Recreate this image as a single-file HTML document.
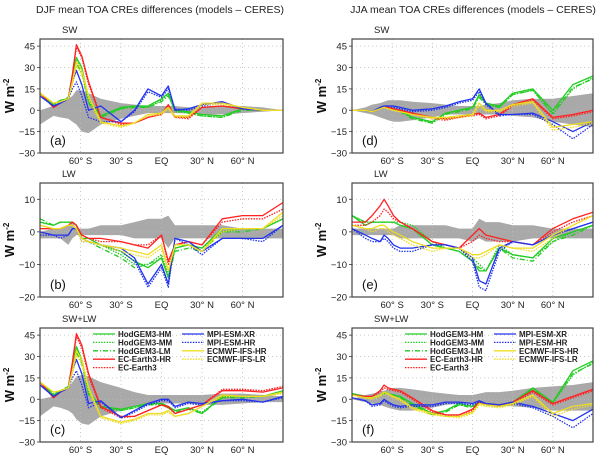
<!DOCTYPE html>
<html><head><meta charset="utf-8">
<style>
html,body{margin:0;padding:0;background:#fff;}
svg{display:block;font-family:"Liberation Sans",sans-serif;}
</style></head>
<body>
<svg id="chart" width="600" height="458" viewBox="0 0 600 458" xmlns="http://www.w3.org/2000/svg">
<text x="160" y="13" font-size="10.5" text-anchor="middle" fill="#222">DJF mean TOA CREs differences (models – CERES)</text>
<text x="473" y="13" font-size="10.5" text-anchor="middle" fill="#222">JJA mean TOA CREs differences (models – CERES)</text>
<g id="panels"></g>
</svg>
<script>
const lats = [-90,-80,-75,-69,-66,-63,-59,-54,-45,-30,-20,-10,0,5,10,20,30,45,60,75,90];
const xTickLats = [-60,-30,0,30,60];
const xTickLabels = ["60° S","30° S","EQ","30° N","60° N"];
const swTicks = [45,30,15,0,-15,-30];
const lwTicks = [10,0,-10,-20];
const seriesNames = ["HodGEM3-HM","HodGEM3-MM","HodGEM3-LM","EC-Earth3-HR","EC-Earth3","MPI-ESM-XR","MPI-ESM-HR","ECMWF-IFS-HR","ECMWF-IFS-LR"];

// Panel a: DJF SW
const aBandHi = [0,3,5,8,10,14,14,12,8,5,4,3,3,3,3,2,2,3,3,2,0];
const aBandLo = [-10,-4,-5,-6,-8,-10,-15,-16,-10,-6,-4,-2,-2,-2,-2,-2,-3,-3,-2,-1,0];
const aGHM = [12,4,7,8,25,37,30,8,-4,2,3,3,8,12,0,-1,-3,-4,1,0,0];
const aGMM = [12,4,6,8,23,35,28,6,-4,1,3,2,7,11,-1,-2,-4,-5,1,0,0];
const aGLM = [12,5,6,9,24,33,26,5,-5,1,2,2,6,10,0,-2,-4,-5,0,0,0];
const aRHR = [12,2,5,8,25,46,38,20,-5,-9,-9,-5,-3,4,-5,-5,2,3,1,0,0];
const aRE3 = [12,2,5,8,24,44,37,18,-5,-10,-9,-5,-2,3,-5,-6,2,3,1,0,0];
const aBXR = [10,3,5,8,20,28,18,0,3,-8,0,15,10,17,0,1,4,6,1,0,0];
const aBHR = [10,3,5,8,15,20,10,-5,-8,-8,-1,13,9,15,1,0,3,5,1,0,0];
const aYHR = [12,5,6,8,20,34,28,10,-8,-11,-9,-3,-2,2,-4,-4,5,5,2,0,0];
const aYLR = [12,5,6,8,18,31,25,8,-9,-12,-9,-4,-3,1,-5,-5,4,4,2,0,0];

// Panel b: DJF LW
const bBandHi = [0,1,1,2,3,1,1,1,2,2,3,4,4,5,2,2,2,2,1,1,1];
const bBandLo = [-2,-2,-2,-4,-2,-1,-1,-1,-1,-1,-2,-2,-2,-5,-2,-2,-2,-2,-2,-2,-2];
const bGHM = [3,2,3,3,3,2,-2,-2,-4,-6,-9,-11,-8,-14,-5,-4,-5,1,1,1,4];
const bGMM = [3,2,3,3,3,2,-2,-3,-4,-7,-10,-10,-7,-13,-5,-4,-5,0,1,1,4];
const bGLM = [4,2,3,3,3,2,-2,-3,-5,-8,-11,-10,-8,-14,-6,-5,-6,0,0,1,4];
const bRHR = [1,1,1,2,3,2,-1,-2,-2,-3,-4,-5,-1,-9,-4,-3,-4,4,5,5,9];
const bRE3 = [1,1,1,2,3,2,-1,-2,-3,-3,-4,-4,-1,-10,-4,-3,-4,3,4,4,7];
const bBXR = [0,-1,-1,-1,1,1,-2,-3,-4,-5,-8,-16,-10,-16,-2,-3,-6,-2,-2,-2,2];
const bBHR = [-1,-1,-2,-1,1,1,-3,-3,-4,-6,-9,-17,-11,-17,-2,-4,-7,-2,-2,-3,2];
const bYHR = [2,1,1,2,2,1,-2,-3,-4,-5,-6,-7,-4,-12,-4,-4,-6,1,1,1,6];
const bYLR = [2,1,1,2,2,1,-3,-3,-4,-6,-7,-8,-5,-12,-4,-4,-6,0,1,1,5];

// Panel c: DJF SW+LW
const cBandHi = [0,2,5,8,12,16,17,16,12,8,5,3,3,3,3,3,3,4,4,3,2];
const cBandLo = [-12,-5,-6,-8,-10,-14,-17,-18,-12,-8,-5,-3,-3,-3,-3,-3,-4,-4,-3,-2,-2];
const cGHM = [12,3,6,8,25,37,28,5,-5,-7,-5,-3,-3,-5,-8,-6,-10,2,2,2,6];
const cGMM = [12,3,6,8,24,35,27,4,-5,-8,-6,-3,-4,-6,-8,-6,-9,1,2,2,5];
const cGLM = [12,4,6,9,23,33,25,3,-6,-8,-6,-4,-4,-6,-9,-7,-10,1,1,2,5];
const cRHR = [12,1,5,8,26,46,38,18,-5,-12,-12,-8,-4,-5,-10,-7,-4,6,6,5,8];
const cRE3 = [12,1,5,8,25,44,36,16,-6,-13,-12,-8,-4,-6,-10,-7,-4,7,7,6,9];
const cBXR = [10,2,5,8,20,28,18,-3,-1,-13,-8,-3,0,0,-5,-2,-3,-1,0,-2,2];
const cBHR = [10,2,5,8,15,20,10,-6,-2,-13,-9,-4,-1,-1,-6,-3,-4,-1,-1,-2,1];
const cYHR = [12,5,6,8,20,34,28,8,-12,-16,-14,-10,-10,-8,-12,-10,-5,3,2,2,5];
const cYLR = [12,5,6,8,18,31,25,6,-13,-17,-15,-11,-11,-9,-12,-10,-5,2,2,2,4];

// Panel d: JJA SW
const dBandHi = [0,2,4,5,6,7,7,7,6,5,4,3,3,3,4,5,7,8,8,10,12];
const dBandLo = [0,-2,-3,-5,-6,-7,-8,-8,-7,-5,-3,-3,-3,-3,-3,-3,-4,-5,-8,-10,-12];
const dGHM = [0,0,-1,1,2,2,1,0,-5,-8,-2,0,2,11,5,3,12,15,0,18,24];
const dGMM = [0,0,-1,1,2,2,1,0,-5,-9,-2,0,2,10,4,2,11,14,-3,15,23];
const dGLM = [0,0,-1,1,2,2,1,-1,-6,-9,-3,-1,1,9,4,2,11,14,-2,16,22];
const dRHR = [0,0,-1,1,2,2,1,0,-2,-5,-6,-5,-3,-2,-5,-3,4,8,-5,-3,0];
const dRE3 = [0,0,-1,1,2,2,1,0,-2,-6,-7,-5,-4,-3,-6,-4,3,7,-6,-4,-1];
const dBXR = [0,0,-1,2,3,3,3,2,0,1,3,6,8,15,5,-3,-3,-2,-8,-15,-8];
const dBHR = [0,0,-1,2,3,3,2,1,-1,0,2,5,7,13,4,-4,-3,-3,-10,-20,-10];
const dYHR = [0,0,-1,1,2,1,0,-1,-3,-5,-5,-4,-3,5,0,0,4,6,-12,-10,-8];
const dYLR = [0,0,-1,1,2,1,0,-1,-3,-6,-6,-5,-4,3,-1,-1,3,5,-14,-12,-9];

// Panel e: JJA LW
const eBandHi = [1,1,1,1,1,1,1,2,2,2,2,1,1,4,3,3,2,2,1,1,1];
const eBandLo = [-1,-1,-1,-1,-1,-1,-1,-2,-2,-2,-2,-2,-3,-2,-3,-3,-3,-2,-2,-2,-2];
const eGHM = [5,2,3,3,3,3,3,2,1,-4,-5,-6,-9,-12,-12,-5,-7,-8,-2,0,2];
const eGMM = [5,3,3,3,3,3,3,3,2,-3,-5,-5,-8,-10,-12,-4,-7,-8,-3,0,2];
const eGLM = [5,3,3,3,3,3,3,2,1,-4,-5,-6,-9,-11,-12,-5,-8,-9,-3,-1,2];
const eRHR = [3,3,5,8,10,8,5,3,1,-3,-4,-5,-1,1,-1,-2,-3,-4,1,4,6];
const eRE3 = [2,2,3,5,7,6,4,3,1,-3,-4,-5,-3,-1,-2,-3,-3,-4,0,3,5];
const eBXR = [1,-1,-2,-3,-1,-2,-4,-5,-5,-4,-4,-5,-8,-15,-16,-5,-3,-4,-1,1,3];
const eBHR = [1,-2,-3,-3,-2,-3,-5,-6,-6,-4,-4,-5,-9,-17,-18,-6,-3,-4,-1,1,3];
const eYHR = [2,1,1,2,2,1,0,-1,-3,-5,-5,-5,-7,-7,-6,-4,-5,-5,-1,2,5];
const eYLR = [2,1,0,1,1,0,-1,-2,-4,-6,-5,-5,-8,-8,-7,-4,-5,-6,-2,2,5];

// Panel f: JJA SW+LW
const fBandHi = [0,3,4,5,6,7,8,8,7,5,4,3,3,4,5,5,6,8,9,10,12];
const fBandLo = [0,-2,-3,-4,-5,-6,-7,-8,-8,-6,-4,-3,-3,-3,-3,-4,-5,-6,-8,-8,-8];
const fGHM = [4,2,1,3,5,4,3,2,-3,-10,-8,-3,-5,-2,-3,-4,-2,8,-2,20,27];
const fGMM = [4,2,1,3,5,4,3,2,-3,-11,-8,-4,-5,-2,-4,-4,-3,7,-3,17,26];
const fGLM = [4,2,1,3,4,4,3,1,-4,-11,-9,-4,-6,-3,-4,-5,-3,7,-2,18,25];
const fRHR = [3,2,2,6,10,8,7,6,1,-8,-11,-11,-7,-2,-3,-4,-2,6,-3,2,7];
const fRE3 = [3,2,2,5,8,7,6,5,0,-9,-11,-12,-8,-3,-4,-5,-3,5,-4,1,6];
const fBXR = [1,-1,-4,-3,0,-2,-4,-5,-4,-4,-2,-2,-3,-1,-3,-4,-2,-5,-10,-15,-7];
const fBHR = [1,-1,-5,-4,-1,-3,-5,-6,-5,-5,-3,-3,-4,-2,-4,-5,-3,-6,-12,-20,-10];
const fYHR = [3,1,1,3,5,4,2,0,-6,-10,-12,-12,-9,-3,-4,-5,-3,3,-10,-5,-3];
const fYLR = [3,1,0,2,4,3,1,-1,-7,-11,-12,-13,-10,-4,-5,-6,-4,2,-12,-7,-4];

const NS = "http://www.w3.org/2000/svg";
const styles = [
  {c:"#22cc22",d:""},{c:"#22cc22",d:"1.5,1.2"},{c:"#22cc22",d:"5,2,1,2"},
  {c:"#ff2222",d:""},{c:"#ff2222",d:"1.5,1.2"},
  {c:"#2233ee",d:""},{c:"#2233ee",d:"1.5,1.2"},
  {c:"#eedd22",d:""},{c:"#eedd22",d:"1.5,1.2"}
];
const panels = [
  {id:"a",title:"SW",x0:40,x1:283,y0:39,y1:153,ymin:-30,ymax:50,ticks:swTicks,hi:aBandHi,lo:aBandLo,s:[aGHM,aGMM,aGLM,aRHR,aRE3,aBXR,aBHR,aYHR,aYLR]},
  {id:"b",title:"LW",x0:40,x1:283,y0:183,y1:297,ymin:-20,ymax:15,ticks:lwTicks,hi:bBandHi,lo:bBandLo,s:[bGHM,bGMM,bGLM,bRHR,bRE3,bBXR,bBHR,bYHR,bYLR]},
  {id:"c",title:"SW+LW",x0:40,x1:283,y0:328,y1:442,ymin:-30,ymax:50,ticks:swTicks,hi:cBandHi,lo:cBandLo,s:[cGHM,cGMM,cGLM,cRHR,cRE3,cBXR,cBHR,cYHR,cYLR],legend:true},
  {id:"d",title:"SW",x0:352,x1:593,y0:39,y1:153,ymin:-30,ymax:50,ticks:swTicks,hi:dBandHi,lo:dBandLo,s:[dGHM,dGMM,dGLM,dRHR,dRE3,dBXR,dBHR,dYHR,dYLR]},
  {id:"e",title:"LW",x0:352,x1:593,y0:183,y1:297,ymin:-20,ymax:15,ticks:lwTicks,hi:eBandHi,lo:eBandLo,s:[eGHM,eGMM,eGLM,eRHR,eRE3,eBXR,eBHR,eYHR,eYLR]},
  {id:"f",title:"SW+LW",x0:352,x1:593,y0:328,y1:442,ymin:-30,ymax:50,ticks:swTicks,hi:fBandHi,lo:fBandLo,s:[fGHM,fGMM,fGLM,fRHR,fRE3,fBXR,fBHR,fYHR,fYLR],legend:true}
];
const root = document.getElementById("panels");
function mk(tag, attrs, parent){const e=document.createElementNS(NS,tag);for(const k in attrs)e.setAttribute(k,attrs[k]);(parent||root).appendChild(e);return e;}

panels.forEach(p=>{
  const g = mk("g",{});
  
  
  const xs = lat => p.x0 + (lat+90)/180*(p.x1-p.x0);
  const ys = v => p.y1 - (v-p.ymin)/(p.ymax-p.ymin)*(p.y1-p.y0);
  let d = lats.map((l,i)=>(i?"L":"M")+xs(l).toFixed(1)+","+ys(p.hi[i]).toFixed(1)).join("");
  for(let i=lats.length-1;i>=0;i--) d += "L"+xs(lats[i]).toFixed(1)+","+ys(p.lo[i]).toFixed(1);
  const band = mk("path",{d:d+"Z",fill:"#a9a9a9",stroke:"none"},g);
  
  
  xTickLats.forEach((l,i)=>{
    const gl = mk("line",{x1:xs(l),x2:xs(l),y1:p.y0,y2:p.y1,stroke:"#bbb","stroke-width":0.8,"stroke-dasharray":"1,3"},g);
    
    
    const t = mk("text",{x:xs(l),y:p.y1+11,"font-size":9.5,"text-anchor":"middle",fill:"#222"},g);
    t.textContent = xTickLabels[i];
    
    
  });
  p.ticks.forEach(v=>{
    const gl = mk("line",{x1:p.x0,x2:p.x1,y1:ys(v),y2:ys(v),stroke:"#bbb","stroke-width":0.8,"stroke-dasharray":"1,3"},g);
    
    
    const tk = mk("line",{x1:p.x0-3,x2:p.x0,y1:ys(v),y2:ys(v),stroke:"#333","stroke-width":0.8},g);
    
    
    const t = mk("text",{x:p.x0-5,y:ys(v)+3.5,"font-size":9.5,"text-anchor":"end",fill:"#222"},g);
    t.textContent = (v<0?"−":"")+Math.abs(v);
    
    
  });
  p.s.forEach((arr,k)=>{
    const pd = lats.map((l,i)=>(i?"L":"M")+xs(l).toFixed(1)+","+ys(arr[i]).toFixed(1)).join("");
    const ln = mk("path",{d:pd,fill:"none",stroke:styles[k].c,"stroke-width":1.3,"stroke-dasharray":styles[k].d,"stroke-linejoin":"round"},g);
    
    
  });
  const fr = mk("rect",{x:p.x0,y:p.y0,width:p.x1-p.x0,height:p.y1-p.y0,fill:"none",stroke:"#444","stroke-width":1.2},g);
  
  
  const tt = mk("text",{x:p.x0+22,y:p.y0-6,"font-size":9.5,fill:"#222"},g);
  tt.textContent = p.title;
  
  
  const pl = mk("text",{x:p.x0+10,y:p.y1-8,"font-size":13,fill:"#111"},g);
  pl.textContent = "("+p.id+")";
  
  
  const yl = mk("text",{x:0,y:0,"font-size":13,"font-weight":"bold","text-anchor":"middle",fill:"#111",transform:"translate("+(p.x0-26)+","+((p.y0+p.y1)/2)+") rotate(-90)"},g);
  yl.innerHTML = 'W m<tspan font-size="8" dy="-5">-2</tspan>';
  
  
  if(p.legend){
    const lg = mk("g",{},g);
    
    
    seriesNames.forEach((n,k)=>{
      const col = k<5?0:1, row = k<5?k:k-5;
      const lx = p.x0 + (col?142:53), ly = p.y0 + 6 + row*8.4;
      const s = mk("line",{x1:lx,x2:lx+22,y1:ly,y2:ly,stroke:styles[k].c,"stroke-width":1.3,"stroke-dasharray":styles[k].d},lg);
      
      
      const t = mk("text",{x:lx+25,y:ly+3,"font-size":8,"font-weight":"bold",fill:"#222"},lg);
      t.textContent = n;
      
      
    });
  }
});
</script>
</body></html>
